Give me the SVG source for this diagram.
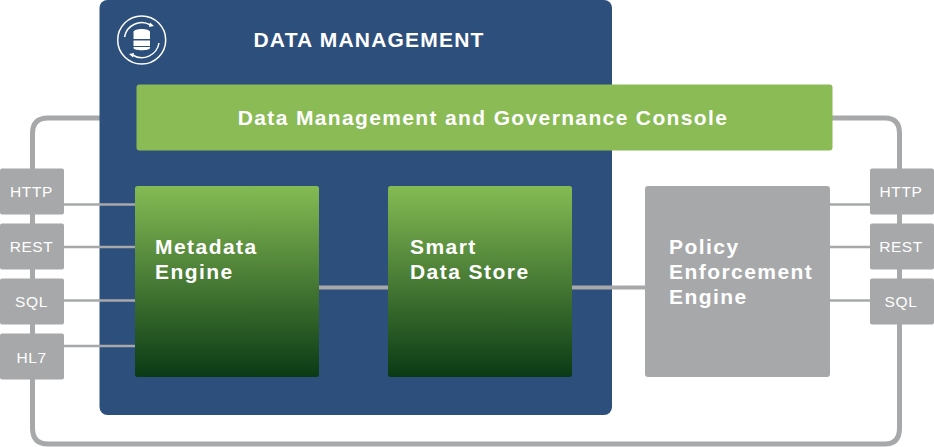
<svg xmlns="http://www.w3.org/2000/svg" width="934" height="447" viewBox="0 0 934 447">
<style>
.t{font-family:"Liberation Sans",Arial,sans-serif;fill:#fff}
.b{font-weight:700}
.h{font-size:21px;text-anchor:middle}
.p{font-size:15.5px;letter-spacing:.6px;text-anchor:middle}
.e{font-size:21px;letter-spacing:1.45px}
.g{fill:#a7a8aa}
.c{fill:none;stroke:#a7a8aa}
.cur{fill:none;stroke:#fff;stroke-width:1.5}
</style>
<defs>
<linearGradient id="grad" x1="0" y1="0" x2="0" y2="1"><stop offset="0" stop-color="#85bb54"/><stop offset="1" stop-color="#0a3a15"/></linearGradient>
</defs>
<rect width="934" height="447" fill="#fff"/>
<path class="c" stroke-width="5" d="M136 118H48Q32.500 118 32.500 133.500V428Q32.500 444 48 444H885Q899.500 444 899.500 428V133.500Q899.500 118 885 118H832"/>
<g id="data-management">
<rect x="99.500" y="0" width="512.500" height="415" rx="8" fill="#2d4f7c"/>
<g id="icon">
<circle class="cur" cx="141.700" cy="40" r="24"/>
<path class="cur" d="M124.500 37A17.500 17.500 0 0 1 150.500 25M159 43A17.500 17.500 0 0 1 132.500 55"/>
<path fill="#fff" d="M150 22.500l4 3.500-5 1zM133 57.500l-4-3.500 5-1z"/>
<path fill="#fff" d="M133.500 32c0-4 16.500-4 16.500 0v7h-16.500zM133.500 40.500h16.500v5.500h-16.500zM133.500 47h16.500v1c0 3-16.500 3-16.500 0z"/>
</g>
<text class="t b h" x="369" y="47" letter-spacing="1.2">DATA MANAGEMENT</text>
</g>
<g id="connectors">
<path class="c" stroke-width="2.500" d="M64 204.500H136M64 247H136M64 300.500H136M64 346H136M830 204.500H870M830 247H870M830 300.500H870"/>
<path class="c" stroke-width="4" d="M319 287.500H388M572 287.500H646"/>
</g>
<g id="console">
<rect x="136.500" y="84.500" width="696" height="66" rx="3" fill="#8abb55"/>
<text class="t b h" x="483" y="125" letter-spacing="1.36">Data Management and Governance Console</text>
</g>
<g id="metadata-engine">
<rect x="135" y="186" width="184" height="191" rx="2.500" fill="url(#grad)"/>
<text class="t b e" x="155" y="254">Metadata</text><text class="t b e" x="155" y="279">Engine</text>
</g>
<g id="smart-data-store">
<rect x="388" y="186" width="184" height="191" rx="2.500" fill="url(#grad)"/>
<text class="t b e" x="410" y="254">Smart</text><text class="t b e" x="410" y="279">Data Store</text>
</g>
<g id="policy-engine">
<rect x="645" y="186" width="185" height="191" rx="3" class="g"/>
<text class="t b e" x="669" y="254">Policy</text><text class="t b e" x="669" y="279">Enforcement</text><text class="t b e" x="669" y="304">Engine</text>
</g>
<g id="left-http"><rect x="0" y="168.500" width="64" height="46" rx="2" class="g"/><text class="t p" x="31.500" y="197">HTTP</text></g>
<g id="left-rest"><rect x="0" y="223.500" width="64" height="46" rx="2" class="g"/><text class="t p" x="31.500" y="252">REST</text></g>
<g id="left-sql"><rect x="0" y="278.500" width="64" height="46" rx="2" class="g"/><text class="t p" x="31.500" y="307">SQL</text></g>
<g id="left-hl7"><rect x="0" y="333.500" width="64" height="46" rx="2" class="g"/><text class="t p" x="31.500" y="363">HL7</text></g>
<g id="right-http"><rect x="870" y="168.500" width="64" height="46" rx="2" class="g"/><text class="t p" x="901" y="197">HTTP</text></g>
<g id="right-rest"><rect x="870" y="223.500" width="64" height="46" rx="2" class="g"/><text class="t p" x="901" y="252">REST</text></g>
<g id="right-sql"><rect x="870" y="278.500" width="64" height="46" rx="2" class="g"/><text class="t p" x="901" y="307">SQL</text></g>
</svg>
